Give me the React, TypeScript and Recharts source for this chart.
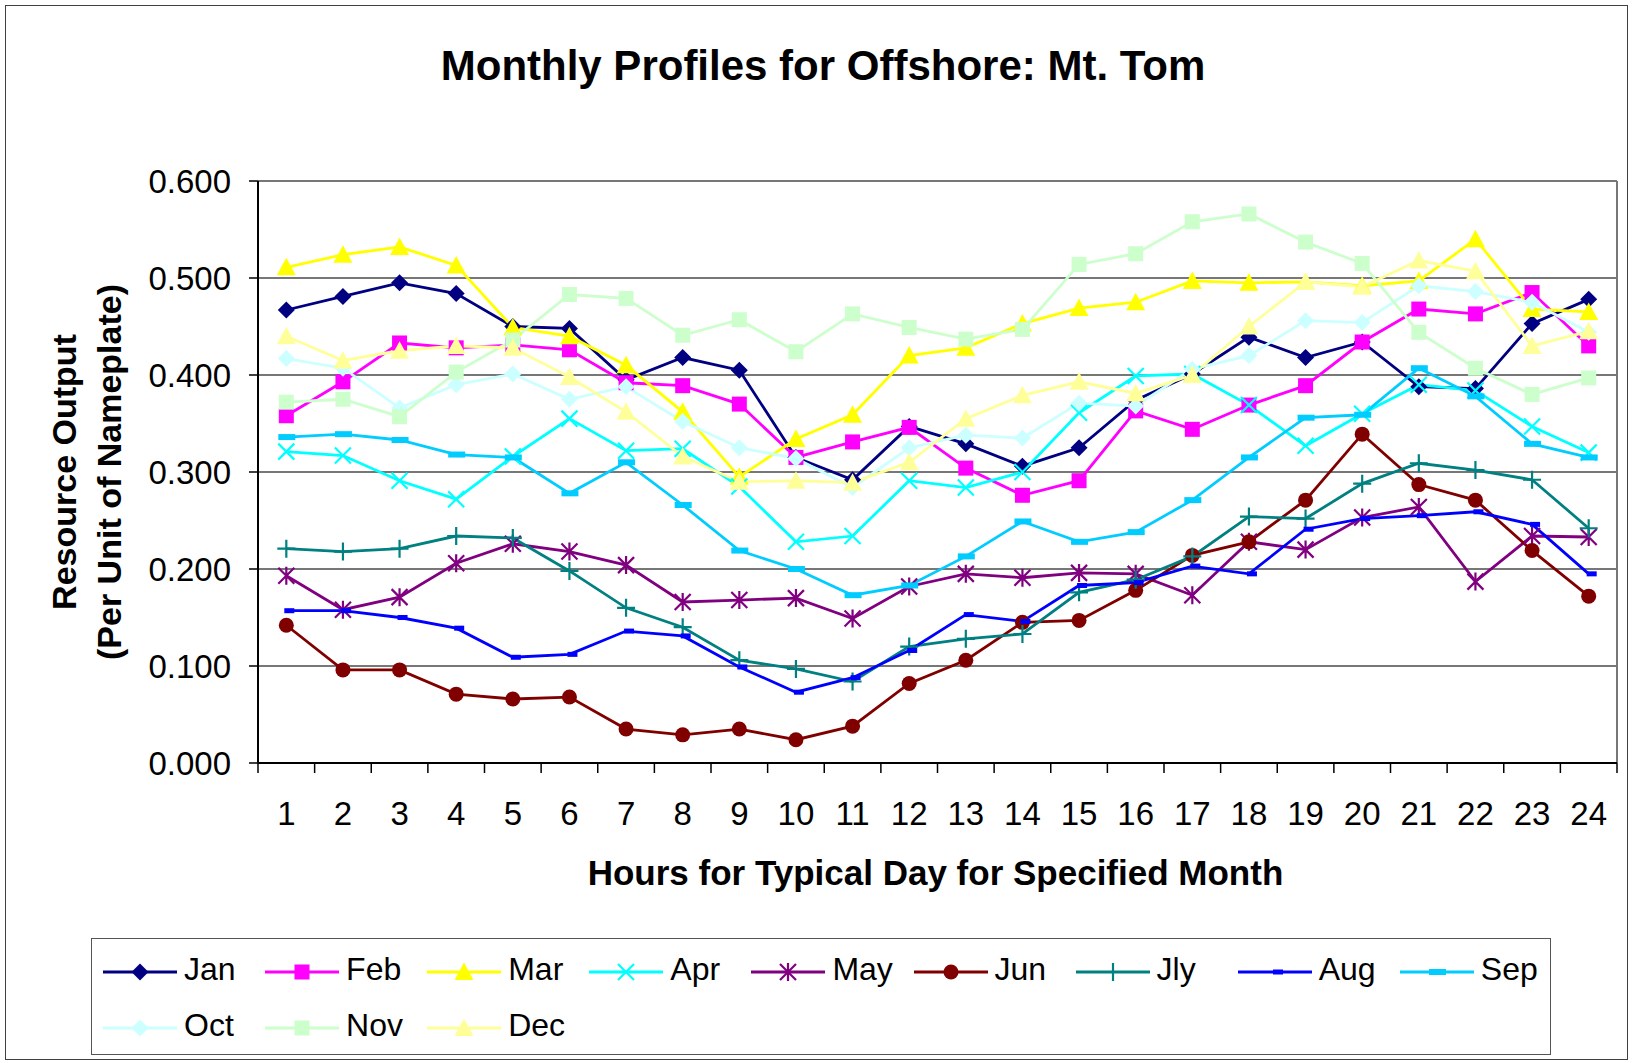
import React from 'react';
import { LineChart, Line, XAxis, YAxis, CartesianGrid, Legend } from 'recharts';

const FONT = '"Liberation Sans", Arial, sans-serif';

const hours = ['1','2','3','4','5','6','7','8','9','10','11','12','13','14','15','16','17','18','19','20','21','22','23','24'];
const yTicks = [0, 0.1, 0.2, 0.3, 0.4, 0.5, 0.6];

const jan = [0.467,0.481,0.495,0.484,0.450,0.448,0.395,0.418,0.405,0.315,0.292,0.347,0.329,0.306,0.325,0.374,0.401,0.439,0.418,0.434,0.388,0.386,0.453,0.478];
const feb = [0.358,0.393,0.433,0.428,0.431,0.426,0.392,0.389,0.370,0.315,0.331,0.346,0.304,0.276,0.291,0.363,0.344,0.369,0.389,0.434,0.468,0.463,0.485,0.430];
const mar = [0.511,0.524,0.532,0.513,0.449,0.440,0.410,0.362,0.295,0.334,0.359,0.420,0.428,0.453,0.469,0.475,0.497,0.495,0.496,0.492,0.497,0.540,0.468,0.465];
const apr = [0.321,0.317,0.291,0.272,0.316,0.355,0.322,0.324,0.285,0.228,0.234,0.291,0.284,0.300,0.361,0.399,0.401,0.369,0.327,0.360,0.390,0.384,0.347,0.320];
const may = [0.193,0.158,0.171,0.206,0.226,0.218,0.204,0.166,0.168,0.170,0.149,0.182,0.195,0.191,0.196,0.195,0.173,0.228,0.220,0.253,0.264,0.187,0.234,0.233];
const jun = [0.142,0.096,0.096,0.071,0.066,0.068,0.035,0.029,0.035,0.024,0.038,0.082,0.106,0.145,0.147,0.178,0.214,0.228,0.271,0.339,0.287,0.271,0.219,0.172];
const jly = [0.221,0.218,0.221,0.234,0.232,0.198,0.160,0.140,0.106,0.097,0.084,0.120,0.128,0.133,0.176,0.189,0.213,0.254,0.252,0.288,0.309,0.302,0.292,0.242];
const aug = [0.157,0.157,0.150,0.139,0.109,0.112,0.136,0.131,0.099,0.073,0.088,0.116,0.153,0.146,0.183,0.186,0.203,0.195,0.241,0.252,0.255,0.259,0.246,0.195];
const sep = [0.336,0.339,0.333,0.318,0.315,0.278,0.310,0.266,0.219,0.200,0.173,0.183,0.213,0.249,0.228,0.238,0.271,0.315,0.356,0.359,0.407,0.378,0.329,0.315];
const oct = [0.417,0.407,0.366,0.390,0.401,0.375,0.388,0.352,0.325,0.314,0.284,0.325,0.338,0.335,0.371,0.368,0.406,0.420,0.456,0.454,0.492,0.486,0.475,0.444];
const nov = [0.372,0.375,0.357,0.403,0.436,0.483,0.479,0.441,0.457,0.424,0.463,0.449,0.437,0.447,0.514,0.525,0.558,0.566,0.537,0.515,0.444,0.407,0.380,0.397];
const dec = [0.440,0.415,0.425,0.430,0.428,0.398,0.362,0.316,0.290,0.291,0.289,0.310,0.355,0.379,0.393,0.381,0.400,0.450,0.496,0.491,0.518,0.507,0.430,0.445];

const series = [
  { key: 'Jan', values: jan, color: '#000080', marker: 'diamond' },
  { key: 'Feb', values: feb, color: '#FF00FF', marker: 'square' },
  { key: 'Mar', values: mar, color: '#FFFF00', marker: 'triangle' },
  { key: 'Apr', values: apr, color: '#00FFFF', marker: 'x' },
  { key: 'May', values: may, color: '#800080', marker: 'star' },
  { key: 'Jun', values: jun, color: '#800000', marker: 'circle' },
  { key: 'Jly', values: jly, color: '#008080', marker: 'plus' },
  { key: 'Aug', values: aug, color: '#0000FF', marker: 'dashS' },
  { key: 'Sep', values: sep, color: '#00CCFF', marker: 'dashL' },
  { key: 'Oct', values: oct, color: '#CCFFFF', marker: 'diamond' },
  { key: 'Nov', values: nov, color: '#CCFFCC', marker: 'square' },
  { key: 'Dec', values: dec, color: '#FFFF99', marker: 'triangle' },
];

const data = hours.map((h, i) => {
  const row: any = { hour: h };
  series.forEach((s) => { row[s.key] = s.values[i]; });
  return row;
});

function Marker({ shape, color, cx, cy }: { shape: string; color: string; cx: number; cy: number }) {
  if (cx == null || cy == null || isNaN(cx) || isNaN(cy)) return <g />;
  switch (shape) {
    case 'diamond':
      return <polygon points={`${cx},${cy - 8.5} ${cx + 8.5},${cy} ${cx},${cy + 8.5} ${cx - 8.5},${cy}`} fill={color} />;
    case 'square':
      return <rect x={cx - 7.5} y={cy - 7.5} width={15} height={15} fill={color} />;
    case 'triangle':
      return <polygon points={`${cx},${cy - 9.5} ${cx + 9.5},${cy + 8} ${cx - 9.5},${cy + 8}`} fill={color} />;
    case 'x':
      return <path d={`M${cx - 8},${cy - 8}L${cx + 8},${cy + 8}M${cx - 8},${cy + 8}L${cx + 8},${cy - 8}`} stroke={color} strokeWidth={2.2} fill="none" />;
    case 'star':
      return <path d={`M${cx - 8},${cy - 8}L${cx + 8},${cy + 8}M${cx - 8},${cy + 8}L${cx + 8},${cy - 8}M${cx},${cy - 9}L${cx},${cy + 9}`} stroke={color} strokeWidth={2.2} fill="none" />;
    case 'circle':
      return <circle cx={cx} cy={cy} r={7.5} fill={color} />;
    case 'plus':
      return <path d={`M${cx - 9},${cy}L${cx + 9},${cy}M${cx},${cy - 9}L${cx},${cy + 9}`} stroke={color} strokeWidth={2.2} fill="none" />;
    case 'dashS':
      return <rect x={cx - 2} y={cy - 2.5} width={10} height={5} fill={color} />;
    case 'dashL':
      return <rect x={cx - 8} y={cy - 3} width={17} height={6} fill={color} />;
    default:
      return <g />;
  }
}

const XTick = (props: any) => {
  const { x, y, payload, index, visibleTicksCount } = props;
  const half = payload && payload.offset ? payload.offset : 0;
  return (
    <g>
      <line x1={x - half} x2={x - half} y1={y} y2={y + 10} stroke="#000" strokeWidth={1.5} />
      {index === visibleTicksCount - 1 && (
        <line x1={x + half} x2={x + half} y1={y} y2={y + 10} stroke="#000" strokeWidth={1.5} />
      )}
      <text x={x} y={y + 62} textAnchor="middle" fontSize={33} fill="#000" fontFamily={FONT}>
        {payload.value}
      </text>
    </g>
  );
};

const XTitle = (props: any) => {
  const vb = props.viewBox || {};
  return (
    <text x={vb.x + vb.width / 2 - 2} y={vb.y + 122} textAnchor="middle" fontSize={35} fontWeight="bold" fill="#000" fontFamily={FONT}>
      Hours for Typical Day for Specified Month
    </text>
  );
};

const YTitle = (props: any) => {
  const vb = props.viewBox || {};
  const cy = vb.y + vb.height / 2;
  return (
    <g>
      <text transform={`translate(76,${cy}) rotate(-90)`} textAnchor="middle" fontSize={34} fontWeight="bold" fill="#000" fontFamily={FONT}>
        Resource Output
      </text>
      <text transform={`translate(121,${cy}) rotate(-90)`} textAnchor="middle" fontSize={34} fontWeight="bold" fill="#000" fontFamily={FONT}>
        (Per Unit of Nameplate)
      </text>
    </g>
  );
};

const renderLegend = () => (
  <div style={{ position: 'relative', width: '100%', height: '100%' }}>
    {series.map((s, i) => {
      const row = Math.floor(i / 9);
      const col = i % 9;
      return (
        <div
          key={s.key}
          style={{ position: 'absolute', left: 11 + col * 162.1, top: 32.7 + row * 56 - 20, height: 40, display: 'flex', alignItems: 'center' }}
        >
          <svg width={74} height={40} style={{ display: 'block' }}>
            <line x1={0} y1={20} x2={74} y2={20} stroke={s.color} strokeWidth={2.8} />
            <Marker shape={s.marker} color={s.color} cx={37} cy={20} />
          </svg>
          <span style={{ marginLeft: 7, fontSize: 32, fontFamily: FONT, color: '#000', lineHeight: '40px', position: 'relative', top: -3 }}>{s.key}</span>
        </div>
      );
    })}
  </div>
);

export default function App() {
  return (
    <div style={{ position: 'absolute', left: 0, top: 0, width: 1633, height: 1063, background: '#fff', fontFamily: FONT }}>
      <div style={{ position: 'absolute', left: 5, top: 5, width: 1623, height: 1055, border: '1.5px solid #404040', boxSizing: 'border-box' }} />
      <svg width={1633} height={120} style={{ position: 'absolute', left: 0, top: 0 }}>
        <text x={823} y={80} textAnchor="middle" fontSize={42} fontWeight="bold" fill="#000" fontFamily={FONT}>
          Monthly Profiles for Offshore: Mt. Tom
        </text>
      </svg>
      <div style={{ position: 'absolute', left: 0, top: 0 }}>
        <LineChart width={1633} height={1063} data={data} margin={{ top: 181, right: 16, left: 0, bottom: 0 }}>
          <CartesianGrid
            stroke="#777"
            strokeWidth={2}
            vertical={true}
            verticalCoordinatesGenerator={(p: any) => [p.offset.left + p.offset.width]}
          />
          <XAxis
            dataKey="hour"
            scale="band"
            height={183}
            interval={0}
            tickLine={false}
            tickSize={0}
            tickMargin={0}
            axisLine={{ stroke: '#000', strokeWidth: 2 }}
            tick={(p: any) => <XTick {...p} />}
            label={{ content: XTitle }}
          />
          <YAxis
            width={258}
            domain={[0, 0.6]}
            ticks={yTicks}
            interval={0}
            tickFormatter={(v: number) => v.toFixed(3)}
            tick={{ fontSize: 33, fill: '#000', fontFamily: FONT }}
            tickSize={9}
            tickMargin={18}
            tickLine={{ stroke: '#000', strokeWidth: 1.5 }}
            axisLine={{ stroke: '#000', strokeWidth: 2 }}
            label={{ content: YTitle }}
          />
          {series.map((s) => (
            <Line
              key={s.key}
              type="linear"
              dataKey={s.key}
              stroke={s.color}
              strokeWidth={2.8}
              isAnimationActive={false}
              activeDot={false}
              dot={(p: any) => <Marker key={`${s.key}-${p.index}`} shape={s.marker} color={s.color} cx={p.cx} cy={p.cy} />}
            />
          ))}
          <Legend
            verticalAlign="bottom"
            content={renderLegend}
            wrapperStyle={{ position: 'absolute', left: 91, top: 938, width: 1460, height: 117, border: '1.5px solid #555', boxSizing: 'border-box', bottom: 'auto' }}
          />
        </LineChart>
      </div>
    </div>
  );
}
